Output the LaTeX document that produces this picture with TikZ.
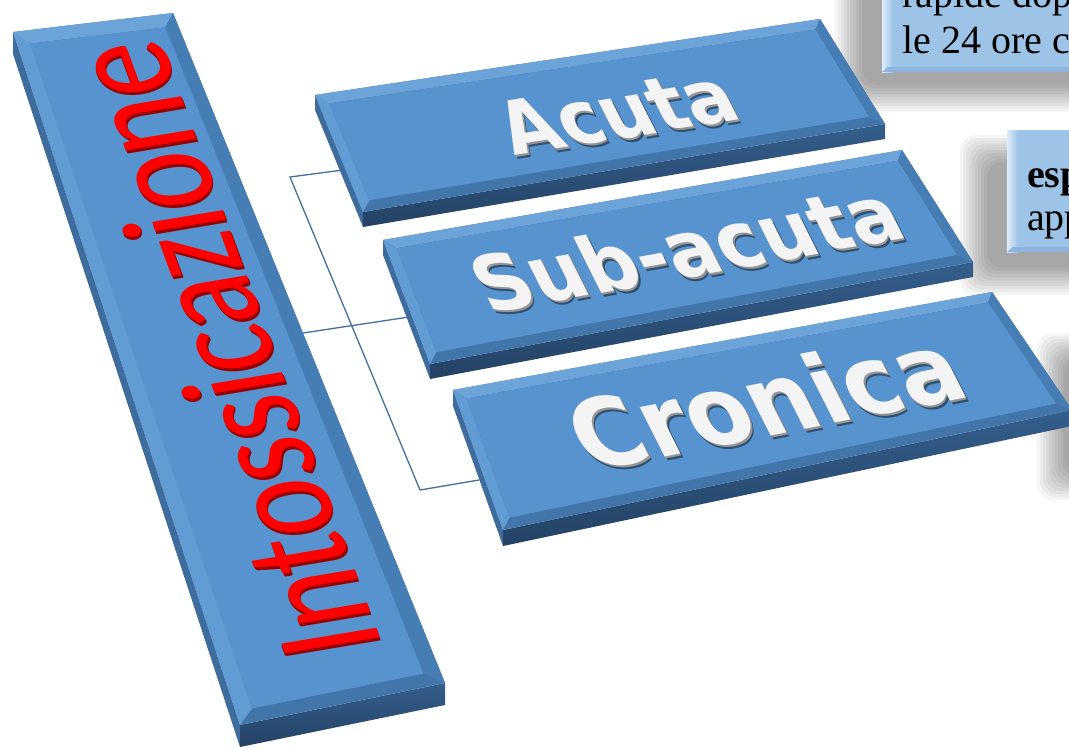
\documentclass[tikz,border=0pt]{standalone}
\usepackage{fontspec}
\setmainfont{Liberation Serif}
\newfontfamily\calib{Carlito}
\newfontfamily\verd{DejaVu Sans}
\usetikzlibrary{calc}

\definecolor{face}{RGB}{87,147,206}
\definecolor{bevt}{RGB}{108,164,218}
\definecolor{bevl}{RGB}{98,156,212}
\definecolor{bevr}{RGB}{70,125,180}
\definecolor{bevb}{RGB}{66,117,170}
\definecolor{frontt}{RGB}{52,94,140}
\definecolor{frontb}{RGB}{36,66,100}
\definecolor{endc}{RGB}{62,108,156}
\definecolor{connc}{RGB}{65,113,156}
\definecolor{boxc}{RGB}{157,195,230}
\definecolor{boxhl}{RGB}{222,238,252}
\definecolor{boxb}{RGB}{140,180,220}
\definecolor{redx}{RGB}{150,0,0}
\definecolor{lblw}{RGB}{244,244,244}
\definecolor{lblg}{RGB}{150,150,150}

\tikzset{
  conn/.style={draw=connc, line width=1.3pt},
  boxtext/.style={anchor=base west, inner sep=0pt, font=\fontsize{40}{40}\selectfont},
}

% soft shadow: lower-left (#1,#2), upper-right (#3,#4)
\newcommand\softshadow[4]{%
  \foreach \k in {0,...,9}{%
    \fill[black, opacity=0.04, rounded corners=16pt]
      ({#1-30+3*\k},{#2-30+3*\k}) rectangle ({#3+30-3*\k},{#4+30-3*\k});
  }%
}

% beveled slab from corners #1A #1B #1C #1D
\newcommand\mkslab[6]{%
  \coordinate (#1ia) at ($($(#1A)!#2!(#1B)$)!#4!($(#1D)!#2!(#1C)$)$);
  \coordinate (#1ib) at ($($(#1A)!#3!(#1B)$)!#4!($(#1D)!#3!(#1C)$)$);
  \coordinate (#1ic) at ($($(#1A)!#3!(#1B)$)!#5!($(#1D)!#3!(#1C)$)$);
  \coordinate (#1id) at ($($(#1A)!#2!(#1B)$)!#5!($(#1D)!#2!(#1C)$)$);
  \coordinate (#1Cb) at ($(#1C)+(0,-#6)$);
  \coordinate (#1Db) at ($(#1D)+(0,-#6)$);
  \coordinate (#1Ab) at ($(#1A)+(0,-#6)$);
  \fill[endc] (#1A) -- (#1D) -- (#1Db) -- (#1Ab) -- cycle;
  \shade[top color=frontt, bottom color=frontb] (#1D) -- (#1C) -- (#1Cb) -- (#1Db) -- cycle;
  \fill[bevb] (#1A) -- (#1B) -- (#1C) -- (#1D) -- cycle;
  \fill[bevt] (#1A) -- (#1B) -- (#1ib) -- (#1ia) -- cycle;
  \fill[bevl] (#1A) -- (#1ia) -- (#1id) -- (#1D) -- cycle;
  \fill[bevr] (#1B) -- (#1C) -- (#1ic) -- (#1ib) -- cycle;
  \fill[face] (#1ia) -- (#1ib) -- (#1ic) -- (#1id) -- cycle;
}

% white 3D label: matrix a b c d, position, size, text, name
\newcommand\whitelbl[9]{%
  \begin{scope}[shift={(3,-4)},cm={#1,#2,#3,#4,(#5,#6)}]
    \node[transform shape,inner sep=0pt,text=black,text opacity=0.45,font={\verd\bfseries\fontsize{#7}{#7}\selectfont}] {#8};
  \end{scope}
  \begin{scope}[shift={(1.5,-2)},cm={#1,#2,#3,#4,(#5,#6)}]
    \node[transform shape,inner sep=0pt,text=lblg,font={\verd\bfseries\fontsize{#7}{#7}\selectfont}] {#8};
  \end{scope}
  \begin{scope}[cm={#1,#2,#3,#4,(#5,#6)}]
    \node[transform shape,inner sep=0pt,text=lblw,font={\verd\bfseries\fontsize{#7}{#7}\selectfont}] (#9) {#8};
  \end{scope}
}

\newcommand\redlbl[9]{%
  \begin{scope}[shift={(1.5,-3)},cm={#1,#2,#3,#4,(#5,#6)}]
    \node[transform shape,inner sep=0pt,text=redx,font={\calib\fontsize{#7}{#7}\selectfont}] {#8};
  \end{scope}
  \begin{scope}[shift={(0.75,-1.5)},cm={#1,#2,#3,#4,(#5,#6)}]
    \node[transform shape,inner sep=0pt,text=redx,font={\calib\fontsize{#7}{#7}\selectfont}] {#8};
  \end{scope}
  \begin{scope}[cm={#1,#2,#3,#4,(#5,#6)}]
    \node[transform shape,inner sep=0pt,text=red,font={\calib\fontsize{#7}{#7}\selectfont}] (#9) {#8};
  \end{scope}
}

\begin{document}
\begin{tikzpicture}[x=1pt,y=1pt]
\useasboundingbox (0,0) rectangle (1069,-748);
\clip (0,0) rectangle (1069,-748);
\fill[white] (0,0) rectangle (1069,-748);

% shadows of the text boxes
\softshadow{865}{-82}{1110}{40}
\softshadow{990}{-265}{1110}{-165}
\softshadow{1067}{-470}{1200}{-363}

% connectors
\coordinate (acL) at (343,-170);
\coordinate (spT) at (290,-177);
\coordinate (spB) at (420,-490);
\coordinate (crL) at (479,-480);
\coordinate (bgR) at (303,-333);
\coordinate (sbL) at (409,-317);
\draw[conn] (acL) -- (spT) -- (spB) -- (crL);
\draw[conn] (bgR) -- (sbL);

% big bar
\coordinate (bgA) at (13,-32);
\coordinate (bgB) at (173,-13);
\coordinate (bgC) at (445,-683);
\coordinate (bgD) at (240,-725);
\mkslab{bg}{0.08}{0.92}{0.019}{0.981}{22}

% Acuta bar
\coordinate (acA) at (315,-95);
\coordinate (acB) at (820,-19);
\coordinate (acC) at (885,-124);
\coordinate (acD) at (363,-212);
\mkslab{ac}{0.02}{0.98}{0.085}{0.915}{15}

% Sub-acuta bar
\coordinate (sbA) at (383,-240);
\coordinate (sbB) at (902,-150);
\coordinate (sbC) at (973,-262);
\coordinate (sbD) at (430,-364);
\mkslab{sb}{0.019}{0.981}{0.08}{0.92}{15}

% Cronica bar
\coordinate (crA) at (453,-390);
\coordinate (crB) at (992,-292);
\coordinate (crC) at (1072,-410);
\coordinate (crD) at (503,-530);
\mkslab{cr}{0.018}{0.982}{0.073}{0.927}{16}

% labels
\redlbl{-0.2613}{0.7137}{-0.9865}{-0.1649}{221}{-350}{150}{Intossicazione}{lint}
\whitelbl{0.9875}{0.1577}{-0.4992}{0.9808}{617}{-112}{72}{Acuta}{lac}
\whitelbl{0.9840}{0.1779}{-0.4920}{0.9841}{686}{-248}{75}{Sub-acuta}{lsb}
\whitelbl{0.9812}{0.1931}{-0.4951}{0.9827}{765}{-400}{92}{Cronica}{lcr}

% text box 1
\fill[boxc] (882,-72) rectangle (1080,10);
\shade[left color=boxhl, right color=boxc] (882,-72) rectangle (893,10);
\fill[boxb] (882,-72) -- (1080,-72) -- (1080,-67) -- (888,-67) -- cycle;
\node[boxtext] (b1a) at (902,-7) {rapide dop};
\node[boxtext] (b1b) at (902,-53) {le 24 ore c};

% text box 2
\fill[boxc] (1007,-130) rectangle (1080,-252);
\shade[left color=boxhl, right color=boxc] (1007,-252) rectangle (1018,-130);
\fill[boxb] (1007,-252) -- (1080,-252) -- (1080,-247) -- (1013,-247) -- cycle;
\node[boxtext, font=\bfseries\fontsize{40}{40}\selectfont] (b2a) at (1027,-187) {esp};
\node[boxtext] (b2b) at (1027,-230) {app};
\end{tikzpicture}
\end{document}
